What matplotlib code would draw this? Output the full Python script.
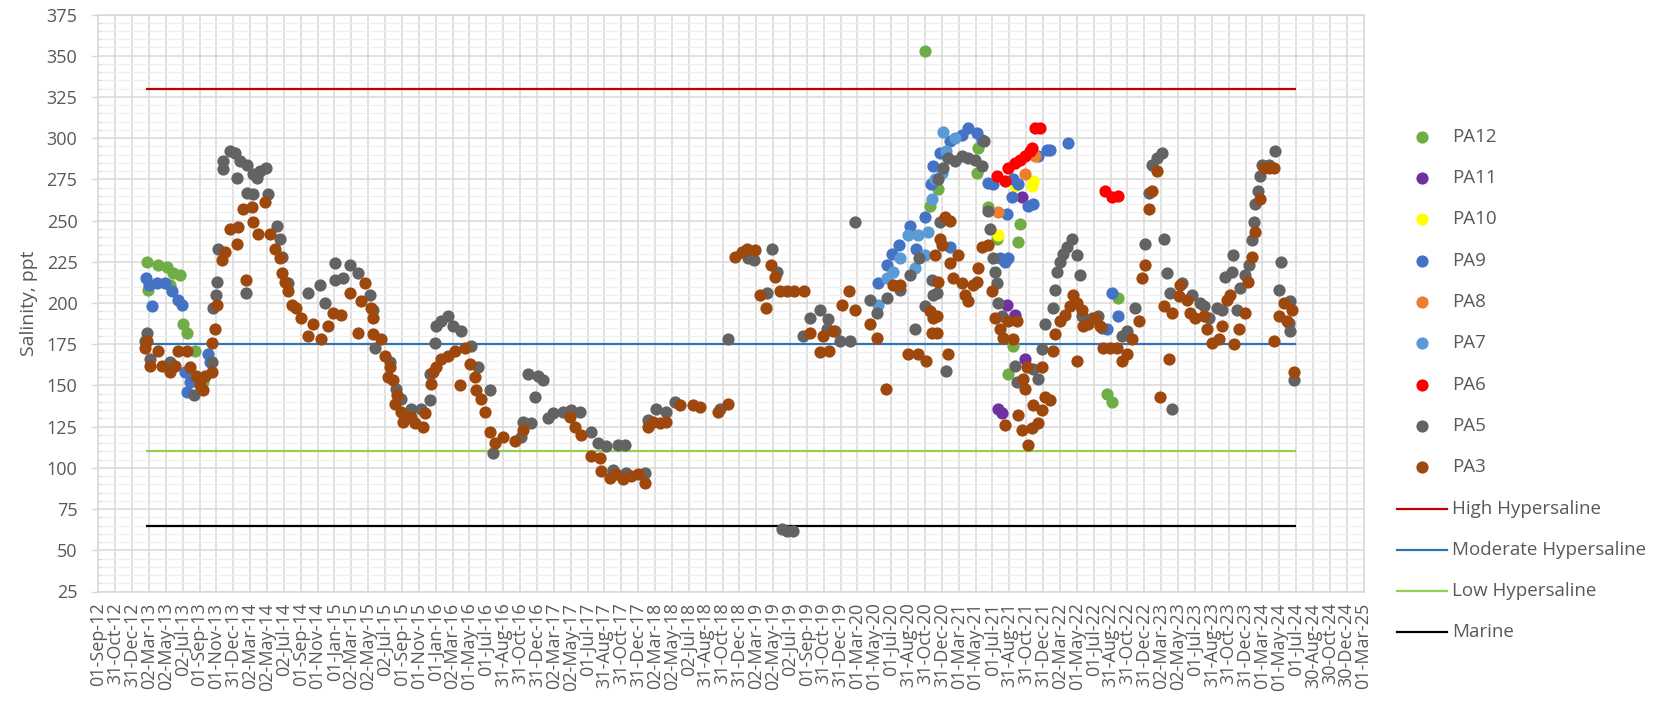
import numpy as np
import matplotlib
matplotlib.use("Agg")
import matplotlib.pyplot as plt
from matplotlib.lines import Line2D
from matplotlib.ticker import MultipleLocator

plt.rcParams['font.family'] = ['Open Sans', 'DejaVu Sans']

W, H, DPI = 1669, 706, 100

# ---- salinity samples: date as decimal year, salinity in ppt ----
pa12_year = [2013.145, 2013.161, 2013.260, 2013.342, 2013.375, 2013.408, 2013.474, 2013.500,
             2013.546, 2013.622, 2013.704, 2020.834, 2020.883, 2020.966, 2021.345, 2021.361,
             2021.460, 2021.542, 2021.657, 2021.707, 2021.750, 2021.773, 2022.629, 2022.678,
             2022.744]
pa12_ppt = [225, 208, 223, 222, 211, 218, 217, 187,
            182, 171, 152, 353, 259, 269, 279, 294,
            258, 239, 157, 174, 237, 248, 145, 140,
            203]

pa11_year = [2021.559, 2021.592, 2021.641, 2021.723, 2021.789, 2021.822]
pa11_ppt = [136, 133, 199, 193, 264, 166]

pa10_year = [2021.559, 2021.723, 2021.888, 2021.904]
pa10_ppt = [241, 271, 271, 274]

pa9_year = [2013.138, 2013.171, 2013.194, 2013.244, 2013.326, 2013.392, 2013.458, 2013.490,
            2013.523, 2013.540, 2013.573, 2013.754, 2013.770,
            2020.366, 2020.455, 2020.504, 2020.577, 2020.686, 2020.742, 2020.834, 2020.893,
            2020.916, 2020.982, 2021.081, 2021.081, 2021.196, 2021.262, 2021.344, 2021.394,
            2021.460, 2021.509, 2021.575, 2021.624, 2021.641, 2021.657, 2021.690, 2021.707,
            2021.756, 2021.855, 2021.904, 2021.954, 2022.036, 2022.069, 2022.244, 2022.629,
            2022.678, 2022.744]
pa9_ppt = [215, 211, 198, 212, 212, 207, 202, 199,
           158, 146, 152, 169, 164,
           212, 223, 230, 235, 247, 233, 252, 272,
           283, 291, 298, 234, 302, 306, 303, 299,
           273, 272, 227, 225, 254, 227, 264, 275,
           272, 259, 260, 289, 293, 293, 297, 184,
           206, 192]

pa8_year = [2021.559, 2021.822, 2021.921]
pa8_ppt = [255, 278, 289]

pa7_year = [2020.373, 2020.455, 2020.521, 2020.587, 2020.669, 2020.735, 2020.768, 2020.834,
            2020.866, 2020.906, 2020.932, 2021.000, 2021.015, 2021.040, 2021.131]
pa7_ppt = [199, 215, 219, 227, 241, 221, 241, 229,
           243, 263, 275, 279, 304, 292, 300]

pa6_year = [2021.542, 2021.624, 2021.657, 2021.723, 2021.773, 2021.822, 2021.871, 2021.894,
            2021.921, 2021.970, 2022.612, 2022.678, 2022.744]
pa6_ppt = [277, 274, 282, 285, 287, 289, 292, 294,
           306, 306, 268, 264, 265]

pa5_year = [2013.128, 2013.151, 2013.178, 2013.375, 2013.612, 2013.671, 2013.787, 2013.797,
            2013.830, 2013.836, 2013.853, 2013.902, 2013.902, 2013.968, 2014.017, 2014.034,
            2014.067, 2014.126, 2014.133, 2014.133, 2014.199, 2014.199, 2014.231, 2014.264,
            2014.323, 2014.347, 2014.429, 2014.462, 2014.478, 2014.544,
            2014.738, 2014.853, 2014.903, 2015.002, 2015.002, 2015.084, 2015.150, 2015.232,
            2015.348, 2015.380, 2015.397, 2015.545, 2015.611, 2015.660, 2015.759, 2015.858,
            2015.940, 2015.940, 2015.990, 2016.006, 2016.056, 2016.121, 2016.171, 2016.253,
            2016.352, 2016.418, 2016.533, 2016.566,
            2016.846, 2016.863, 2016.912, 2016.945, 2016.978, 2017.011, 2017.060, 2017.110,
            2017.159, 2017.258, 2017.340, 2017.423, 2017.538, 2017.604, 2017.686, 2017.752,
            2017.801, 2017.867, 2017.884, 2018.065, 2018.098, 2018.180, 2018.279, 2018.361,
            2018.808, 2018.884, 2019.088, 2019.148, 2019.269, 2019.319, 2019.368, 2019.418,
            2019.467, 2019.533, 2019.632, 2019.698, 2019.797, 2019.862, 2019.879, 2019.945,
            2019.994, 2020.093, 2020.142, 2020.290, 2020.356, 2020.455, 2020.587, 2020.686,
            2020.735, 2020.775, 2020.834, 2020.899, 2020.916,
            2020.949, 2020.966, 2020.982, 2021.015, 2021.038, 2021.065, 2021.131, 2021.196,
            2021.262, 2021.328, 2021.394, 2021.420, 2021.460, 2021.476, 2021.509, 2021.526,
            2021.542, 2021.559, 2021.592, 2021.723, 2021.740, 2021.904, 2021.954, 2021.987,
            2022.020, 2022.102, 2022.119, 2022.135, 2022.168, 2022.201, 2022.234, 2022.283,
            2022.333, 2022.365, 2022.382, 2022.481, 2022.547, 2022.580, 2022.777, 2022.826,
            2022.909,
            2023.011, 2023.044, 2023.077, 2023.127, 2023.176, 2023.199, 2023.225, 2023.258,
            2023.275, 2023.374, 2023.472, 2023.555, 2023.588, 2023.637, 2023.719, 2023.769,
            2023.802, 2023.868, 2023.877, 2023.917, 2023.950, 2023.999, 2024.032, 2024.065,
            2024.082, 2024.098, 2024.121, 2024.141, 2024.164, 2024.230, 2024.296, 2024.329,
            2024.351, 2024.427, 2024.444, 2024.444, 2024.483]
pa5_ppt = [177, 182, 166, 164, 144, 154, 164, 197,
           205, 213, 233, 281, 286, 292, 291, 276,
           286, 206, 284, 267, 278, 266, 276, 280,
           282, 266, 247, 239, 228, 212,
           206, 211, 200, 224, 214, 215, 223, 218,
           205, 196, 173, 164, 148, 142, 136, 136,
           141, 157, 176, 186, 189, 192, 186, 183,
           174, 161, 147, 109,
           119, 128, 157, 127, 143, 156, 153, 130,
           133, 134, 135, 134, 122, 115, 113, 99,
           114, 114, 97, 97, 129, 136, 134, 140,
           136, 178, 227, 226, 206, 233, 219, 63,
           62, 62, 180, 191, 196, 184, 190, 183,
           177, 177, 249, 202, 194, 203, 208, 217,
           184, 227, 198, 214, 205,
           206, 275, 249, 282, 159, 288, 286, 289,
           288, 287, 283, 298, 256, 245, 227, 219,
           212, 200, 192, 162, 152, 160, 154, 172,
           187, 197, 208, 219, 225, 230, 234, 239,
           229, 217, 192, 191, 192, 185, 180, 183,
           197,
           236, 267, 284, 288, 291, 239, 218, 206,
           136, 212, 205, 200, 198, 191, 197, 196,
           216, 219, 229, 196, 209, 217, 223, 238,
           249, 260, 268, 277, 284, 284, 292, 208,
           225, 188, 201, 183, 153]

pa3_year = [2013.128, 2013.145, 2013.178, 2013.260, 2013.293, 2013.375, 2013.425, 2013.458,
            2013.540, 2013.573, 2013.632, 2013.671, 2013.704, 2013.721, 2013.787, 2013.787,
            2013.820, 2013.836, 2013.886, 2013.919, 2013.968, 2014.034, 2014.050, 2014.100,
            2014.126, 2014.182, 2014.199, 2014.248, 2014.314, 2014.363, 2014.413, 2014.462,
            2014.478, 2014.511, 2014.544, 2014.577,
            2014.623, 2014.672, 2014.738, 2014.788, 2014.870, 2014.936, 2014.985, 2015.068,
            2015.150, 2015.232, 2015.265, 2015.298, 2015.364, 2015.380, 2015.380, 2015.463,
            2015.496, 2015.529, 2015.545, 2015.578, 2015.595, 2015.618, 2015.660, 2015.677,
            2015.759, 2015.792, 2015.874, 2015.891, 2015.957, 2015.973, 2016.006, 2016.056,
            2016.121, 2016.187, 2016.237, 2016.286, 2016.336, 2016.385, 2016.401, 2016.451,
            2016.484, 2016.533, 2016.583, 2016.665,
            2016.780, 2016.863, 2017.324, 2017.373, 2017.439, 2017.538, 2017.620, 2017.637,
            2017.719, 2017.785, 2017.851, 2017.933, 2017.999, 2018.065, 2018.098, 2018.147,
            2018.213, 2018.279, 2018.411, 2018.542, 2018.608,
            2018.792, 2018.891, 2018.957, 2019.022, 2019.072, 2019.154, 2019.204, 2019.259,
            2019.312, 2019.352, 2019.401, 2019.467, 2019.543, 2019.642, 2019.698, 2019.796,
            2019.830, 2019.885, 2019.928, 2020.010, 2020.083, 2020.142, 2020.290, 2020.356,
            2020.445, 2020.521, 2020.587, 2020.669, 2020.768, 2020.840, 2020.883, 2020.899,
            2020.916, 2020.932,
            2020.949, 2020.949, 2020.966, 2020.982, 2020.999, 2021.032, 2021.065, 2021.081,
            2021.081, 2021.114, 2021.163, 2021.196, 2021.229, 2021.262, 2021.311, 2021.344,
            2021.361, 2021.394, 2021.460, 2021.493, 2021.526, 2021.575, 2021.608, 2021.625,
            2021.657, 2021.707, 2021.740, 2021.756, 2021.789, 2021.806, 2021.822, 2021.839,
            2021.855, 2021.888, 2021.904, 2021.954, 2021.987, 2021.987, 2022.020, 2022.069,
            2022.102, 2022.119, 2022.168, 2022.217, 2022.267, 2022.300, 2022.333, 2022.333,
            2022.382, 2022.398, 2022.448, 2022.514, 2022.563, 2022.596, 2022.662, 2022.728,
            2022.777, 2022.826, 2022.876,
            2022.945, 2022.978, 2023.011, 2023.044, 2023.077, 2023.127, 2023.159, 2023.192,
            2023.242, 2023.275, 2023.341, 2023.357, 2023.423, 2023.456, 2023.505, 2023.588,
            2023.621, 2023.670, 2023.736, 2023.769, 2023.818, 2023.851, 2023.884, 2023.934,
            2023.999, 2024.022, 2024.065, 2024.098, 2024.141, 2024.180, 2024.230, 2024.279,
            2024.286, 2024.329, 2024.378, 2024.411, 2024.460, 2024.483]
pa3_ppt = [173, 177, 162, 171, 162, 158, 162, 171,
           171, 161, 156, 150, 147, 156, 158, 176,
           184, 199, 226, 231, 245, 236, 246, 257,
           214, 258, 249, 242, 261, 242, 233, 227,
           218, 213, 207, 199,
           197, 191, 180, 187, 178, 186, 194, 193,
           206, 182, 201, 212, 197, 191, 181, 178,
           168, 155, 161, 153, 139, 144, 134, 128,
           131, 127, 125, 133, 151, 158, 161, 166,
           168, 171, 150, 173, 163, 155, 147, 142,
           134, 122, 115, 119,
           116, 123, 131, 125, 120, 107, 106, 98,
           94, 96, 93, 95, 96, 91, 125, 128,
           127, 128, 138, 138, 137,
           134, 139, 228, 231, 233, 232, 205, 197,
           223, 216, 207, 207, 207, 207, 182, 170,
           180, 171, 183, 199, 207, 196, 187, 179,
           148, 211, 211, 169, 169, 165, 195, 182,
           191, 229,
           192, 182, 213, 239, 235, 252, 169, 250,
           224, 215, 229, 212, 205, 201, 211, 213,
           221, 234, 235, 207, 191, 184, 179, 126,
           189, 178, 189, 132, 123, 154, 148, 161,
           114, 124, 138, 127, 135, 161, 143, 141,
           171, 181, 189, 193, 198, 205, 200, 165,
           196, 186, 187, 191, 186, 173, 173, 173,
           165, 169, 178,
           189, 215, 223, 257, 268, 280, 143, 198,
           166, 194, 204, 211, 202, 194, 191, 192,
           184, 176, 178, 186, 202, 205, 175, 184,
           194, 213, 228, 243, 263, 282, 282, 282,
           177, 192, 200, 189, 196, 158]

# ---- salinity class thresholds (ppt) over the monitoring period ----
threshold_names = ["High Hypersaline", "Moderate Hypersaline", "Low Hypersaline", "Marine"]
threshold_ppt = [330, 175, 110, 65]
threshold_colors = ["#C00000", "#2E75B6", "#92D050", "#000000"]
period_year = [2013.135, 2024.496]

# ---- date axis labels, evenly spaced from Sep 2012 to Mar 2025 ----
tick_labels = [
    "01-Sep-12", "31-Oct-12", "31-Dec-12", "02-Mar-13", "02-May-13", "02-Jul-13",
    "01-Sep-13", "01-Nov-13", "31-Dec-13", "02-Mar-14", "02-May-14", "02-Jul-14",
    "01-Sep-14", "01-Nov-14", "01-Jan-15", "02-Mar-15", "02-May-15", "02-Jul-15",
    "01-Sep-15", "01-Nov-15", "01-Jan-16", "02-Mar-16", "01-May-16", "01-Jul-16",
    "31-Aug-16", "31-Oct-16", "31-Dec-16", "02-Mar-17", "02-May-17", "01-Jul-17",
    "31-Aug-17", "31-Oct-17", "31-Dec-17", "02-Mar-18", "02-May-18", "02-Jul-18",
    "31-Aug-18", "31-Oct-18", "31-Dec-18", "02-Mar-19", "02-May-19", "02-Jul-19",
    "01-Sep-19", "31-Oct-19", "31-Dec-19", "01-Mar-20", "01-May-20", "01-Jul-20",
    "31-Aug-20", "31-Oct-20", "31-Dec-20", "01-Mar-21", "01-May-21", "01-Jul-21",
    "31-Aug-21", "31-Oct-21", "31-Dec-21", "02-Mar-22", "01-May-22", "01-Jul-22",
    "31-Aug-22", "31-Oct-22", "31-Dec-22", "02-Mar-23", "02-May-23", "01-Jul-23",
    "31-Aug-23", "31-Oct-23", "31-Dec-23", "01-Mar-24", "01-May-24", "01-Jul-24",
    "30-Aug-24", "30-Oct-24", "30-Dec-24", "01-Mar-25",
]
x_start, x_end = 2012 + 8 / 12, 2025 + 2 / 12

series = [
    ("PA12", pa12_year, pa12_ppt, "#70AD47"),
    ("PA11", pa11_year, pa11_ppt, "#7030A0"),
    ("PA10", pa10_year, pa10_ppt, "#FFFF00"),
    ("PA9", pa9_year, pa9_ppt, "#4472C4"),
    ("PA8", pa8_year, pa8_ppt, "#ED7D31"),
    ("PA7", pa7_year, pa7_ppt, "#5B9BD5"),
    ("PA6", pa6_year, pa6_ppt, "#FF0000"),
    ("PA5", pa5_year, pa5_ppt, "#636363"),
    ("PA3", pa3_year, pa3_ppt, "#9E480E"),
]

TEXT = "#595959"
GRID = "#D9D9D9"

fig = plt.figure(figsize=(W / DPI, H / DPI), dpi=DPI)
left_px, right_px, top_px, bottom_px = 98.3, 1363.6, 14.5, 591.5
ax = fig.add_axes([left_px / W, 1 - bottom_px / H,
                   (right_px - left_px) / W, (bottom_px - top_px) / H])

# threshold lines
for name, level, col in zip(threshold_names, threshold_ppt, threshold_colors):
    ax.plot(period_year, [level, level], color=col, lw=1.6, zorder=3, solid_capstyle='butt')

# site samples, PA3 drawn last
for name, yrs, vals, col in series:
    ax.plot(yrs, vals, 'o', ms=8.8, color=col, mec='none', zorder=4)

ax.set_xlim(x_start, x_end)
ax.set_ylim(25, 375)
ax.set_xticks(np.linspace(x_start, x_end, len(tick_labels)))
ax.set_xticklabels(tick_labels, rotation=90, va='top', ha='center')
ax.yaxis.set_major_locator(MultipleLocator(25))
ax.yaxis.set_minor_locator(MultipleLocator(5))

ax.grid(True, which='major', axis='both', color=GRID, lw=1.1, zorder=1)
ax.grid(True, which='minor', axis='y', color='#EFEFEF', lw=0.8, zorder=0)
ax.set_axisbelow(True)

ax.tick_params(axis='x', length=0, pad=8, labelsize=13, colors=TEXT)
ax.tick_params(axis='y', which='major', direction='out', length=5, width=1,
               color=GRID, pad=10, labelsize=13, labelcolor=TEXT)
ax.tick_params(axis='y', which='minor', direction='in', length=3, width=0.8, color=GRID)
for sp in ax.spines.values():
    sp.set_color(GRID)
    sp.set_linewidth(1.1)

ax.set_ylabel("Salinity, ppt", fontsize=14, color=TEXT, labelpad=6)

# legend entries, laid out as a single column to the right of the plot
leg_y0, leg_dy = 136.8, 41.3
marker_x, text_x = 1422, 1452
line_x0, line_x1 = 1397, 1447
row = 0
for name, yrs, vals, col in series:
    yf = 1 - (leg_y0 + row * leg_dy) / H
    fig.add_artist(Line2D([marker_x / W], [yf], marker='o', ms=8.8, color=col,
                          mec='none', transform=fig.transFigure))
    fig.text(text_x / W, yf, name, fontsize=13.5, color=TEXT, va='center', ha='left')
    row += 1
for name, level, col in zip(threshold_names, threshold_ppt, threshold_colors):
    yf = 1 - (leg_y0 + row * leg_dy) / H
    fig.add_artist(Line2D([line_x0 / W, line_x1 / W], [yf, yf], color=col, lw=1.6,
                          transform=fig.transFigure))
    fig.text(text_x / W, yf, name, fontsize=13.5, color=TEXT, va='center', ha='left')
    row += 1

fig.savefig("out.png", dpi=DPI)
